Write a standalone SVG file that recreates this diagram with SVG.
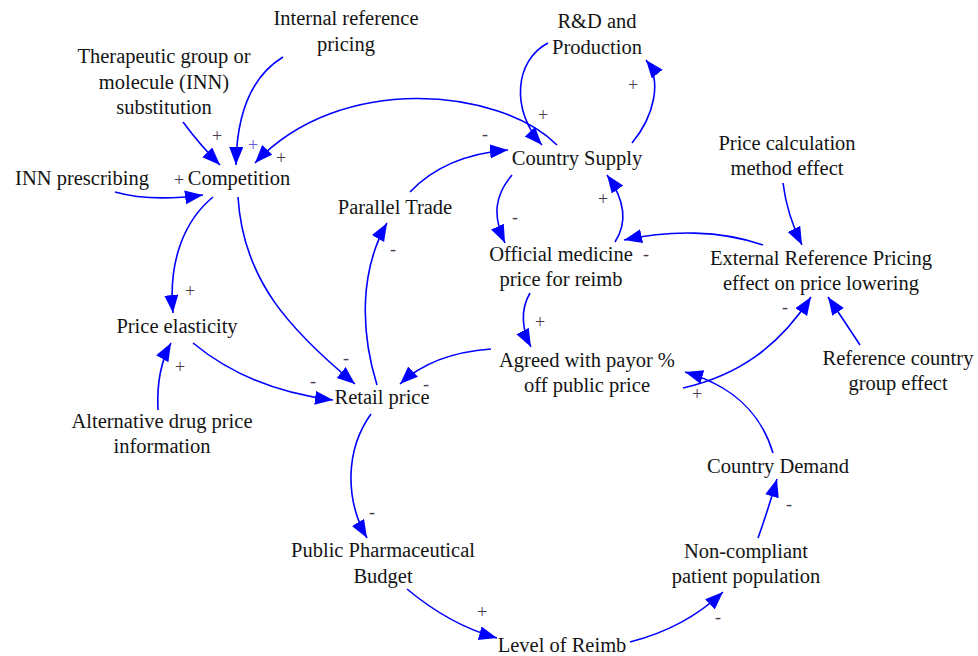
<svg xmlns="http://www.w3.org/2000/svg" width="978" height="656" viewBox="0 0 978 656">
  <defs>
    <marker id="arrow" markerUnits="userSpaceOnUse" markerWidth="22" markerHeight="16" refX="18" refY="7" orient="auto">
      <path d="M0,0 L18,7 L0,14 Z" fill="#0000ff"/>
    </marker>
    <style>
      .lbl { font-size: 20.5px; fill: #141414; text-anchor: middle; }
      .pol { font-size: 18px; fill: #4a3c4a; text-anchor: middle; }
      .pol.alt { fill: #6a5ad0; }
      .link { fill: none; stroke: #0000ff; stroke-width: 1.6; marker-end: url(#arrow); }
    </style>
  </defs>
  <rect width="978" height="656" fill="#ffffff"/>

  <!-- causal links -->
  <g id="connectors">
    <path class="link" d="M283,57 Q237,85 236,165"/>
    <path class="link" d="M183,122 Q200,145 220,165"/>
    <path class="link" d="M557,145 C500,88 340,72 255,163"/>
    <path class="link" d="M632,143 C655,115 662,80 646,60"/>
    <path class="link" d="M548,43 C515,60 510,110 542,145"/>
    <path class="link" d="M115,192 Q150,202 203,195"/>
    <path class="link" d="M213,197 C185,220 168,260 173,313"/>
    <path class="link" d="M238,197 C243,280 290,330 355,384"/>
    <path class="link" d="M193,343 Q250,390 333,400"/>
    <path class="link" d="M158,410 Q156,370 171,343"/>
    <path class="link" d="M377,385 C360,330 360,270 387,223"/>
    <path class="link" d="M410,192 Q445,155 508,150"/>
    <path class="link" d="M512,175 C495,195 492,215 505,243"/>
    <path class="link" d="M615,242 C628,222 625,200 607,175"/>
    <path class="link" d="M763,245 C720,230 670,230 624,240"/>
    <path class="link" d="M783,183 Q787,215 802,245"/>
    <path class="link" d="M860,345 Q845,322 828,297"/>
    <path class="link" d="M683,388 C740,375 780,345 811,297"/>
    <path class="link" d="M530,293 C520,310 522,330 531,347"/>
    <path class="link" d="M491,349 C450,352 420,365 400,384"/>
    <path class="link" d="M773,453 C760,410 730,385 685,372"/>
    <path class="link" d="M371,414 C345,450 345,500 367,538"/>
    <path class="link" d="M407,589 Q450,625 497,638"/>
    <path class="link" d="M630,642 Q685,628 723,592"/>
    <path class="link" d="M758,538 Q768,510 777,479"/>
  </g>

  <!-- link polarities -->
  <g id="polarities" font-family="Liberation Serif, serif">
    <text class="pol" x="217" y="142">+</text>
    <text class="pol alt" x="253" y="151">+</text>
    <text class="pol" x="281" y="164">+</text>
    <text class="pol" x="179" y="186">+</text>
    <text class="pol" x="543" y="121">+</text>
    <text class="pol" x="633" y="91">+</text>
    <text class="pol" x="485" y="140">-</text>
    <text class="pol" x="515" y="223">-</text>
    <text class="pol" x="603" y="205">+</text>
    <text class="pol" x="646" y="260">-</text>
    <text class="pol" x="190" y="297">+</text>
    <text class="pol" x="346" y="364">-</text>
    <text class="pol" x="313" y="387">-</text>
    <text class="pol" x="180" y="373">+</text>
    <text class="pol" x="393" y="255">-</text>
    <text class="pol" x="540" y="328">+</text>
    <text class="pol" x="426" y="390">-</text>
    <text class="pol" x="785" y="313">-</text>
    <text class="pol" x="697" y="400">+</text>
    <text class="pol" x="372" y="518">-</text>
    <text class="pol" x="482" y="618">+</text>
    <text class="pol" x="718" y="623">-</text>
    <text class="pol" x="789" y="510">-</text>
  </g>

  <!-- variables -->
  <g id="variables" font-family="Liberation Serif, serif">
    <g id="internal-reference-pricing"><text class="lbl" x="346" y="25">Internal reference</text><text class="lbl" x="346" y="51">pricing</text></g>
    <g id="therapeutic-substitution"><text class="lbl" x="164" y="63">Therapeutic group or</text><text class="lbl" x="164" y="89">molecule (INN)</text><text class="lbl" x="164" y="114">substitution</text></g>
    <g id="inn-prescribing"><text class="lbl" x="82" y="185">INN prescribing</text></g>
    <g id="competition"><text class="lbl" x="239" y="185">Competition</text></g>
    <g id="rd-production"><text class="lbl" x="597" y="28">R&amp;D and</text><text class="lbl" x="597" y="54">Production</text></g>
    <g id="country-supply"><text class="lbl" x="577" y="165">Country Supply</text></g>
    <g id="parallel-trade"><text class="lbl" x="395" y="214">Parallel Trade</text></g>
    <g id="official-medicine-price"><text class="lbl" x="561" y="261">Official medicine</text><text class="lbl" x="561" y="286">price for reimb</text></g>
    <g id="price-calculation-method"><text class="lbl" x="787" y="150">Price calculation</text><text class="lbl" x="787" y="175">method effect</text></g>
    <g id="external-reference-pricing"><text class="lbl" x="821" y="265">External Reference Pricing</text><text class="lbl" x="821" y="290">effect on price lowering</text></g>
    <g id="price-elasticity"><text class="lbl" x="177" y="333">Price elasticity</text></g>
    <g id="agreed-with-payor"><text class="lbl" x="587" y="367">Agreed with payor %</text><text class="lbl" x="587" y="392">off public price</text></g>
    <g id="reference-country-group"><text class="lbl" x="898" y="365">Reference country</text><text class="lbl" x="898" y="390">group effect</text></g>
    <g id="retail-price"><text class="lbl" x="382" y="404">Retail price</text></g>
    <g id="alternative-drug-price"><text class="lbl" x="162" y="428">Alternative drug price</text><text class="lbl" x="162" y="453">information</text></g>
    <g id="country-demand"><text class="lbl" x="778" y="473">Country Demand</text></g>
    <g id="public-pharmaceutical-budget"><text class="lbl" x="383" y="557">Public Pharmaceutical</text><text class="lbl" x="383" y="583">Budget</text></g>
    <g id="non-compliant-population"><text class="lbl" x="746" y="558">Non-compliant</text><text class="lbl" x="746" y="583">patient population</text></g>
    <g id="level-of-reimb"><text class="lbl" x="562" y="652">Level of Reimb</text></g>
  </g>
</svg>
